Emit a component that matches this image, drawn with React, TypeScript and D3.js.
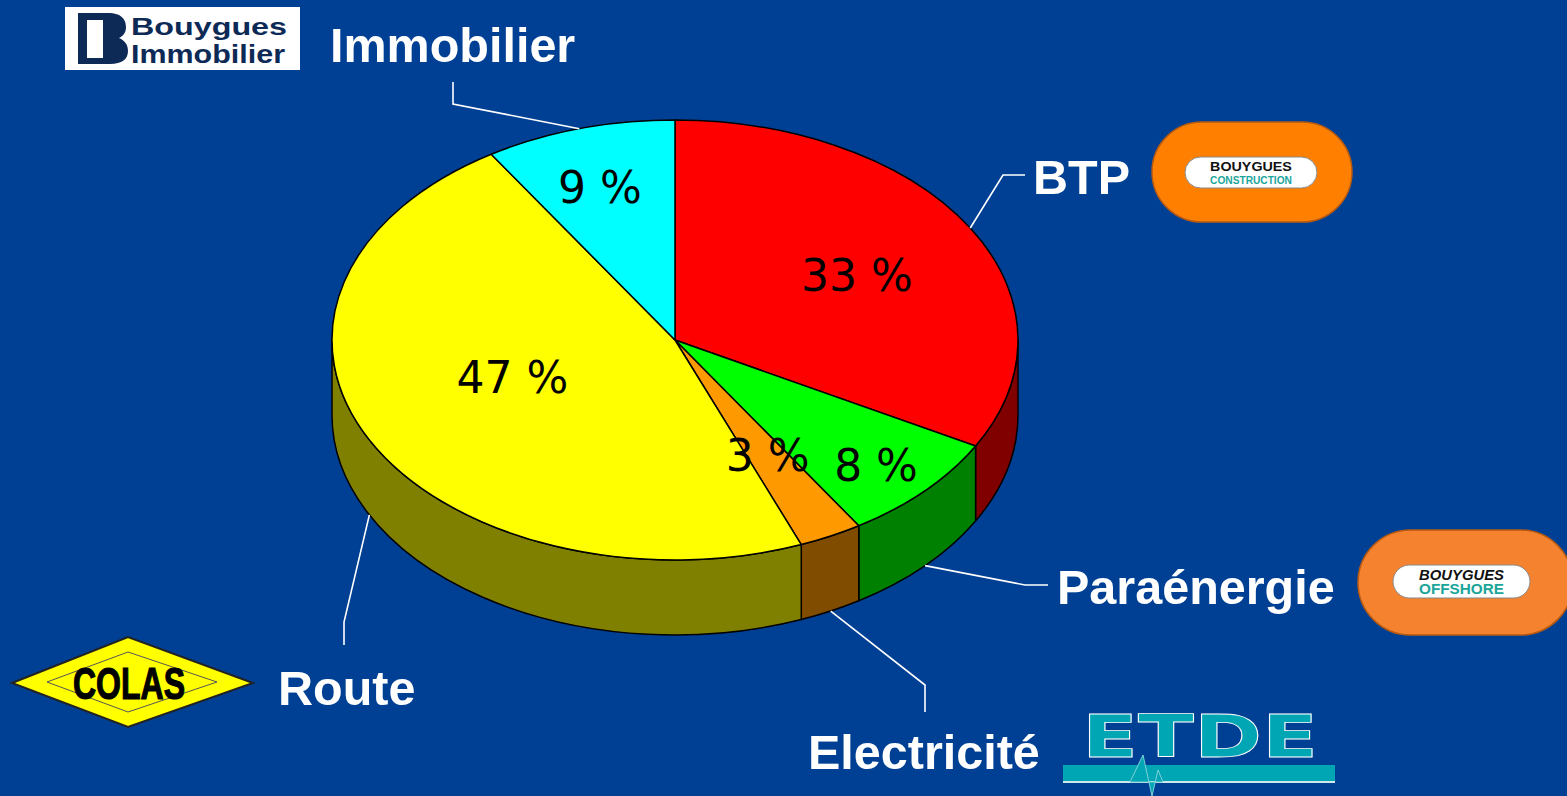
import React from "react";
import * as d3 from "d3";

// chart data
const segments = ["BTP", "Paraénergie", "Electricité", "Route", "Immobilier"];
const shares = [33, 8, 3, 47, 9];
const percentLabels = ["33 %", "8 %", "3 %", "47 %", "9 %"];

const topColors = ["#FF0000", "#00FF00", "#FF9900", "#FFFF00", "#00FFFF"];
const sideColors = ["#800000", "#008000", "#804C00", "#808000", "#008080"];

// label placement inside the slice (fraction of rx / ry along mid angle)
const labelFrac: [number, number][] = [
  [0.616, 0.58],
  [0.804, 0.83],
  [0.595, 0.588],
  [0.532, 0.377],
  [0.784, 0.725],
];

// category label placement: elbow, end, text anchor
const calloutPts = [
  { elbow: [1003, 175], end: [1025, 175], tx: 1033, ty: 194 },
  { elbow: [1025, 585], end: [1048, 585], tx: 1057, ty: 604 },
  { elbow: [925, 685], end: [925, 712], tx: 808, ty: 769 },
  { elbow: [344, 622], end: [344, 645], tx: 278, ty: 705 },
  { elbow: [453, 104], end: [453, 82], tx: 330, ty: 62 },
];

const W = 1567;
const H = 796;
const cx = 675;
const cy = 340;
const rx = 343;
const ry = 220;
const depth = 75;
const BG = "#004094";

const pt = (a: number, dy = 0): [number, number] => [
  cx + rx * Math.sin(a),
  cy - ry * Math.cos(a) + dy,
];

function topPath(a0: number, a1: number) {
  const p0 = pt(a0);
  const p1 = pt(a1);
  const large = a1 - a0 > Math.PI ? 1 : 0;
  return `M${cx},${cy}L${p0[0]},${p0[1]}A${rx},${ry} 0 ${large} 1 ${p1[0]},${p1[1]}Z`;
}

function sidePath(a0: number, a1: number) {
  const s = Math.max(a0, Math.PI / 2);
  const e = Math.min(a1, (3 * Math.PI) / 2);
  if (e <= s) return null;
  const p0 = pt(s);
  const p1 = pt(e);
  const q1 = pt(e, depth);
  const q0 = pt(s, depth);
  return `M${p0[0]},${p0[1]}A${rx},${ry} 0 0 1 ${p1[0]},${p1[1]}L${q1[0]},${q1[1]}A${rx},${ry} 0 0 0 ${q0[0]},${q0[1]}Z`;
}

function BouyguesImmobilier() {
  return (
    <g>
      <rect x={65} y={7} width={235} height={63} fill="#FFFFFF" />
      <path
        d="M78,13H108C122,13 126,20 126,27C126,33 123,36 119,38C124,40 128,44 128,51C128,59 122,64 110,64H78Z"
        fill="#0D2A57"
      />
      <rect x={87} y={20} width={16} height={38} fill="#FFFFFF" />
      <text x={131} y={35} fontFamily="Liberation Sans Narrow, Liberation Sans" fontWeight="bold" fontSize={24} fill="#0D2A57" textLength={156} lengthAdjust="spacingAndGlyphs">Bouygues</text>
      <text x={131} y={63} fontFamily="Liberation Sans Narrow, Liberation Sans" fontWeight="bold" fontSize={26} fill="#0D2A57" textLength={154} lengthAdjust="spacingAndGlyphs">Immobilier</text>
    </g>
  );
}

function Stadium({ x, y, w, h, fill, ix, iy, iw, ih, line2, italic }: any) {
  return (
    <g>
      <rect x={x} y={y} width={w} height={h} rx={h / 2} fill={fill} stroke="#B85A10" strokeWidth={1.5} />
      <rect x={ix} y={iy} width={iw} height={ih} rx={ih / 2} fill="#FFFFFF" stroke="#888" strokeWidth={1} />
      <text x={ix + iw / 2} y={iy + ih * 0.46} textAnchor="middle" fontFamily="Liberation Sans Narrow, Liberation Sans" fontWeight="bold" fontStyle={italic ? "italic" : "normal"} fontSize={ih * 0.42} fill="#111" textLength={iw * 0.62} lengthAdjust="spacingAndGlyphs">BOUYGUES</text>
      <text x={ix + iw / 2} y={iy + ih * 0.88} textAnchor="middle" fontFamily="Liberation Sans Narrow, Liberation Sans" fontWeight="bold" fontSize={ih * (italic ? 0.44 : 0.36)} fill="#1AA59A" textLength={iw * 0.62} lengthAdjust="spacingAndGlyphs">{line2}</text>
    </g>
  );
}

function Colas() {
  return (
    <g>
      <polygon points="12,683 128,637 253,683 128,727" fill="#FFFF00" stroke="#222" strokeWidth={2} />
      <polygon points="47,682 128,652 217,682 128,712" fill="none" stroke="#555" strokeWidth={1} />
      <text x={129} y={699} textAnchor="middle" fontFamily="Liberation Sans Narrow, Liberation Sans" fontWeight="bold" fontSize={44} fill="#000" stroke="#000" strokeWidth={1.2} textLength={112} lengthAdjust="spacingAndGlyphs">COLAS</text>
    </g>
  );
}

function Etde() {
  const teal = "#00A6B4";
  return (
    <g>
      <text x={1082} y={757} fontFamily="DejaVu Sans" fontWeight="bold" fontSize={59} fill={teal} stroke="#FFFFFF" strokeWidth={0.8} textLength={236} lengthAdjust="spacingAndGlyphs">ETDE</text>
      <rect x={1063} y={765} width={272} height={17} fill={teal} />
      <rect x={1063} y={781} width={272} height={2} fill="#CFE8EA" />
      <path d="M1130,782L1143,755L1152,796L1158,770L1163,782Z" fill={teal} stroke="#7FD0D8" strokeWidth={1} />
    </g>
  );
}

export default function App() {
  const pie = d3
    .pie<number>()
    .sort(null)
    .value((d) => d)
    .startAngle(0)
    .endAngle(2 * Math.PI);
  const arcs = pie(shares);
  const white = "#FFFFFF";

  return (
    <svg width={W} height={H} style={{ position: "absolute", left: 0, top: 0 }}>
      <rect width={W} height={H} fill={BG} />

      {/* pie sides */}
      {arcs.map((a, i) => {
        const d = sidePath(a.startAngle, a.endAngle);
        return d ? (
          <path key={"s" + i} d={d} fill={sideColors[i]} stroke="#000" strokeWidth={1.5} strokeLinejoin="round" />
        ) : null;
      })}

      {/* pie tops */}
      {arcs.map((a, i) => (
        <path key={"t" + i} d={topPath(a.startAngle, a.endAngle)} fill={topColors[i]} stroke="#000" strokeWidth={1.5} strokeLinejoin="round" />
      ))}

      {/* percentages */}
      {arcs.map((a, i) => {
        const m = (a.startAngle + a.endAngle) / 2;
        const x = cx + rx * Math.sin(m) * labelFrac[i][0];
        const y = cy - ry * Math.cos(m) * labelFrac[i][1];
        return (
          <text key={"p" + i} x={x} y={y} dy="0.36em" textAnchor="middle" fontFamily="DejaVu Sans" fontSize={44} fill="#000">
            {percentLabels[i]}
          </text>
        );
      })}

      {/* callouts */}
      {arcs.map((a, i) => {
        const m = (a.startAngle + a.endAngle) / 2;
        const front = Math.cos(m) < 0;
        const s = pt(m, front ? depth : 0);
        const c = calloutPts[i];
        return (
          <g key={"c" + i}>
            <polyline
              points={`${s[0]},${s[1]} ${c.elbow[0]},${c.elbow[1]} ${c.end[0]},${c.end[1]}`}
              fill="none"
              stroke={white}
              strokeWidth={1.6}
            />
            <text x={c.tx} y={c.ty} fontFamily="Liberation Sans, Arial" fontWeight="bold" fontSize={48.5} fill={white}>
              {segments[i]}
            </text>
          </g>
        );
      })}

      <BouyguesImmobilier />
      <Stadium x={1152} y={122} w={200} h={100} fill="#FF7F00" ix={1185} iy={157} iw={132} ih={31} line2="CONSTRUCTION" />
      <Stadium x={1358} y={530} w={215} h={105} fill="#F4822F" ix={1393} iy={565} iw={137} ih={33} line2="OFFSHORE" italic />
      <Colas />
      <Etde />
    </svg>
  );
}
